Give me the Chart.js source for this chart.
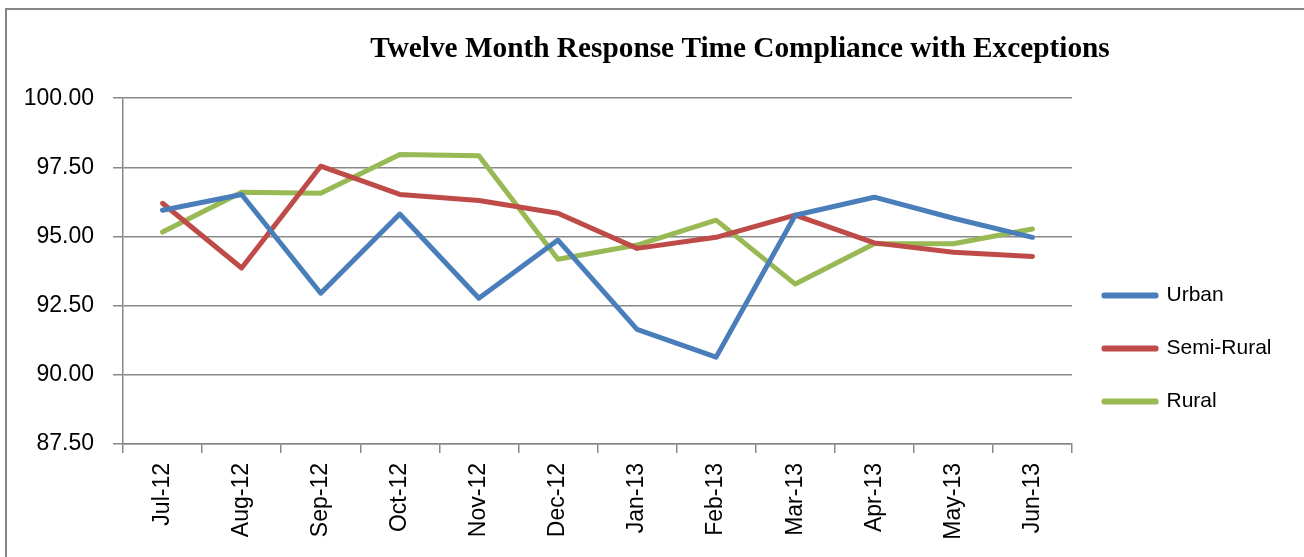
<!DOCTYPE html>
<html>
<head>
<meta charset="utf-8">
<script src="https://cdn.jsdelivr.net/npm/chart.js@4/dist/chart.umd.min.js"></script>
<style>
  html, body { margin: 0; padding: 0; background: #fff; overflow: hidden; width: 1304px; height: 557px; }
  #frame { position: absolute; left: 5px; top: 8px; border: 2px solid #868686; width: 1466px; height: 600px; }
  canvas { display: block; }
</style>
</head>
<body>
<div id="frame"><canvas id="chartLine" width="1466" height="600"></canvas></div>
<script>
const months = ["Jul-12", "Aug-12", "Sep-12", "Oct-12", "Nov-12", "Dec-12",
  "Jan-13", "Feb-13", "Mar-13", "Apr-13", "May-13", "Jun-13"];
const urban = [95.95, 96.52, 92.95, 95.81, 92.77, 94.87, 91.64, 90.64, 95.77, 96.42, 95.66, 94.97];
const semiRural = [96.2, 93.86, 97.54, 96.52, 96.3, 95.84, 94.57, 94.97, 95.77, 94.77, 94.43, 94.28];
const rural = [95.16, 96.6, 96.56, 97.96, 97.92, 94.18, 94.69, 95.59, 93.28, 94.74, 94.74, 95.27];
const yTicks = [87.5, 90, 92.5, 95, 97.5, 100];

const gridGrey = "#888888";
const axisFont = { family: "'Liberation Sans', Arial, sans-serif", size: 23 };

const lineSet = (label, data, color) => ({
  label: label,
  data: data,
  borderColor: color,
  backgroundColor: color,
  borderWidth: 5,
  borderCapStyle: "round",
  borderJoinStyle: "round",
  pointRadius: 0,
  tension: 0,
});

// the legend sits in a wide right-hand column, so the title stays centred on the whole frame
const legendWidth = {
  id: "legendWidth",
  afterInit: chart => {
    const legend = chart.legend;
    const baseFit = legend.fit.bind(legend);
    legend.fit = () => {
      baseFit();
      legend.width = 401;
    };
  },
};

const ctx = document.getElementById("chartLine").getContext("2d");

new Chart(ctx, {
  type: "line",
  data: {
    labels: months,
    datasets: [
      lineSet("Urban", urban, "#4A7EBB"),
      lineSet("Semi-Rural", semiRural, "#BE4B48"),
      lineSet("Rural", rural, "#98B954"),
    ],
  },
  plugins: [legendWidth],
  options: {
    responsive: false,
    animation: false,
    layout: { padding: 0 },
    plugins: {
      title: {
        display: true,
        text: "Twelve Month Response Time Compliance with Exceptions",
        color: "#000",
        font: { family: "'Liberation Serif', 'Times New Roman', serif", size: 29.3, weight: "bold" },
        padding: { top: 22, bottom: 31 },
      },
      legend: {
        position: "right",
        align: "end",
        fullSize: false,
        labels: {
          color: "#000",
          font: { family: "'Liberation Sans', Arial, sans-serif", size: 21 },
          boxWidth: 52,
          boxHeight: 1,
          padding: 32,
        },
      },
      tooltip: { enabled: false },
    },
    scales: {
      x: {
        offset: true,
        grid: {
          offset: true,
          drawOnChartArea: false,
          drawTicks: true,
          tickLength: 9,
          color: gridGrey,
          lineWidth: 1.5,
        },
        border: { color: gridGrey, width: 1.5 },
        ticks: {
          color: "#000",
          font: axisFont,
          minRotation: 90,
          maxRotation: 90,
          autoSkip: false,
          padding: 10,
        },
        afterFit: scale => { scale.height = 166; },
      },
      y: {
        min: yTicks[0],
        max: yTicks[yTicks.length - 1],
        afterBuildTicks: scale => { scale.ticks = yTicks.map(v => ({ value: v })); },
        grid: { color: gridGrey, lineWidth: 1.5, tickLength: 10 },
        border: { color: gridGrey, width: 1.5 },
        ticks: {
          color: "#000",
          font: axisFont,
          padding: 19,
          callback: v => Number(v).toFixed(2),
        },
        afterFit: scale => { scale.width = 116; },
      },
    },
  },
});
</script>
</body>
</html>
